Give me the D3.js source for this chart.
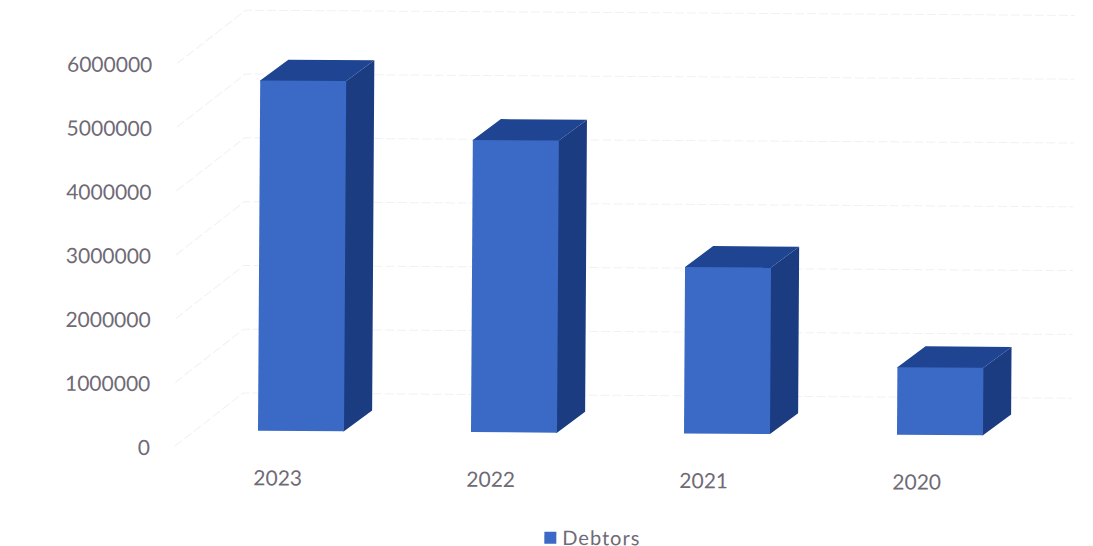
<!DOCTYPE html>
<html>
<head>
<meta charset="utf-8">
<script src="https://cdn.jsdelivr.net/npm/d3@7"></script>
<style>
  html, body { margin: 0; padding: 0; background: #fff; }
  svg { display: block; }
  text { font-family: Lato, "Open Sans", sans-serif; fill: #6f6a76; }
  .tick text { font-size: 21px; }
</style>
</head>
<body>
<svg id="chart" width="1093" height="546"></svg>
<script>
const years = ["2023", "2022", "2021", "2020"];
const debtors = [5490000, 4580000, 2610000, 1060000];
const valueTicks = [0, 1000000, 2000000, 3000000, 4000000, 5000000, 6000000];
const seriesName = "Debtors";

const svg = d3.select("#chart");
const plot = svg.append("g").attr("transform", "rotate(0.36 500 432)");

// One unit of value in pixels, shared by the walls and the columns.
const pxPerUnit = 63.8 / 1000000;
const axisBase = 448.2;
const wallBase = 394.6;
const wallLeft = 243;
const wallRight = 1072;
const wallFrontLeft = 175;

const y = d3.scaleLinear().domain([0, 6000000]).range([axisBase, axisBase - 6000000 * pxPerUnit]);
const x = d3.scaleBand().domain(years).range([170.5, 1022.5]);
const height = d3.scaleLinear().domain([0, 6000000]).range([0, 6000000 * pxPerUnit]);

const wallY = v => wallBase - height(v);

// Faint gridlines along the back wall and the side wall.
const grid = plot.append("g")
  .attr("fill", "none")
  .attr("stroke", "#f1f0f7")
  .attr("stroke-width", 1)
  .attr("stroke-dasharray", "9 3");

grid.selectAll("path")
  .data(valueTicks)
  .join("path")
  .attr("d", v => d3.line()([
    [wallFrontLeft, y(v)],
    [wallLeft, wallY(v)],
    [wallRight, wallY(v)]
  ]));

// Extruded columns: right face, top face, front face.
const barWidth = 86;
const barBase = 432.3;
const depthX = 28;
const depthY = 21;
const barLeftOffset = -19;

const bars = plot.append("g")
  .selectAll("g")
  .data(years.map((year, i) => ({ year, value: debtors[i] })))
  .join("g")
  .attr("transform", d => `translate(${x(d.year) + x.bandwidth() / 2 + barLeftOffset},0)`);

const topOf = d => barBase - height(d.value);
const poly = pts => d3.line()(pts) + "Z";

// The side and top faces start slightly inside the front face so no seam shows.
bars.append("path")
  .attr("fill", "#1c3c82")
  .attr("d", d => poly([
    [barWidth - 1, barBase],
    [barWidth, barBase],
    [barWidth + depthX, barBase - depthY],
    [barWidth + depthX, topOf(d) - depthY],
    [barWidth, topOf(d)],
    [barWidth - 1, topOf(d)]
  ]));

bars.append("path")
  .attr("fill", "#1e4492")
  .attr("d", d => poly([
    [0, topOf(d) + 1],
    [0, topOf(d)],
    [depthX, topOf(d) - depthY],
    [barWidth + depthX, topOf(d) - depthY],
    [barWidth, topOf(d)],
    [barWidth, topOf(d) + 1]
  ]));

bars.append("rect")
  .attr("fill", "#3a6ac6")
  .attr("x", 0)
  .attr("width", barWidth)
  .attr("y", d => topOf(d))
  .attr("height", d => height(d.value));

// Value axis, labels only.
plot.append("g")
  .attr("transform", "translate(150,1.8)")
  .call(d3.axisLeft(y).tickValues(valueTicks).tickSize(0).tickPadding(0).tickFormat(d3.format("d")))
  .call(g => g.select(".domain").remove());

// Category axis, labels only.
plot.append("g")
  .attr("transform", "translate(1,472)")
  .call(d3.axisBottom(x).tickSize(0).tickPadding(0))
  .call(g => g.select(".domain").remove());

// Legend.
const legend = plot.append("g").attr("transform", "translate(545,531.5)");
legend.append("rect")
  .attr("width", 12).attr("height", 12)
  .attr("fill", "#3a6ac6");
legend.append("text")
  .attr("x", 18).attr("y", 13)
  .attr("font-size", 20)
  .attr("letter-spacing", 1)
  .text(seriesName);
</script>
</body>
</html>
